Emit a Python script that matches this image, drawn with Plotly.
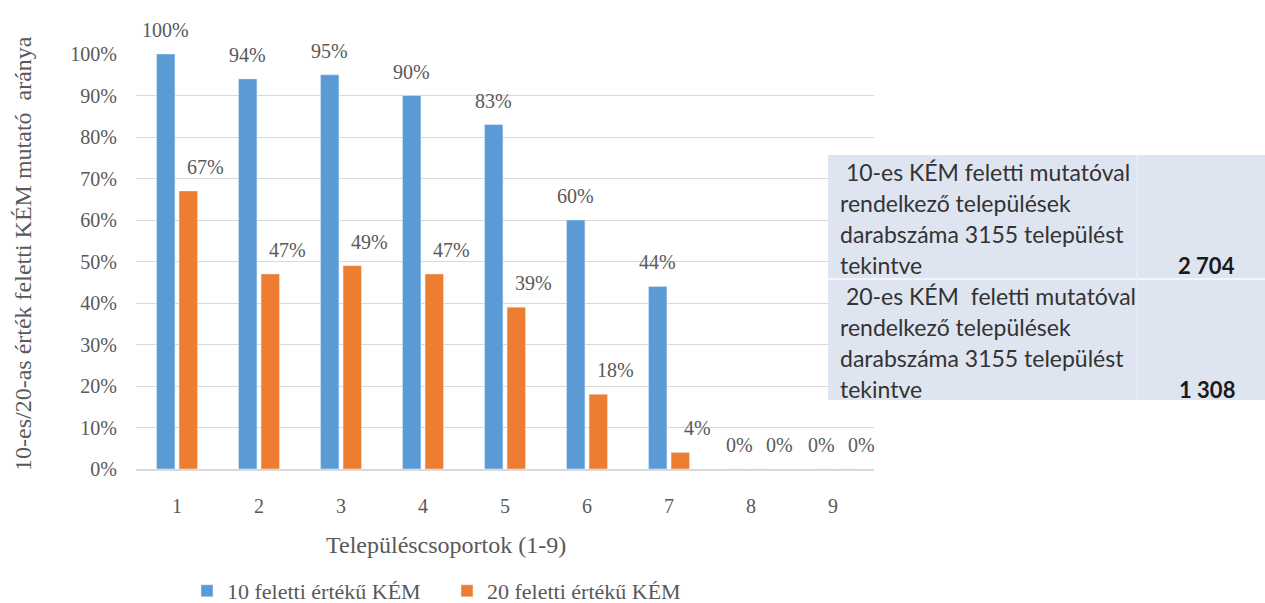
import plotly.graph_objects as go

# Településcsoportok és a KÉM mutatók arányai (%)
groups = [1, 2, 3, 4, 5, 6, 7, 8, 9]
kem10 = [100, 94, 95, 90, 83, 60, 44, 0, 0]
kem20 = [67, 47, 49, 47, 39, 18, 4, 0, 0]
series_names = ["10 feletti értékű KÉM", "20 feletti értékű KÉM"]
y_ticks = [0, 10, 20, 30, 40, 50, 60, 70, 80, 90, 100]

# Összesítő táblázat
table_rows = [
    [" 10-es KÉM feletti mutatóval", "rendelkező települések",
     "darabszáma 3155 települést", "tekintve"],
    [" 20-es KÉM  feletti mutatóval", "rendelkező települések",
     "darabszáma 3155 települést", "tekintve"],
]
table_totals = ["2 704", "1 308"]

BLUE = "#5B9BD5"
ORANGE = "#ED7D31"
GRAY = "#595959"
GRID = "#D9D9D9"
SERIF = "Liberation Serif"

W, H = 1265, 603
M_L, M_R, M_T, M_B = 136, 391, 54, 134
PW = W - M_L - M_R
PH = H - M_T - M_B


def px_x(px):
    return (px - M_L) / PW


def px_y(py):
    return (H - M_B - py) / PH


BAR_W = 0.225
OFF_BLUE = -0.25
OFF_ORANGE = 0.025

fig = go.Figure()
fig.add_trace(go.Bar(
    x=groups, y=kem10, name=series_names[0], marker_color=BLUE,
    width=BAR_W, offset=OFF_BLUE, cliponaxis=False,
))
fig.add_trace(go.Bar(
    x=groups, y=kem20, name=series_names[1], marker_color=ORANGE,
    width=BAR_W, offset=OFF_ORANGE, cliponaxis=False,
))

# Adatfeliratok a sávok fölött
annotations = []
for g, v in zip(groups, kem10):
    annotations.append(dict(
        x=g + OFF_BLUE + BAR_W / 2, y=v, xref="x", yref="y",
        text=f"{v}%", showarrow=False, yanchor="middle", yshift=24,
        font=dict(family=SERIF, size=20, color=GRAY),
    ))
for g, v in zip(groups, kem20):
    annotations.append(dict(
        x=g + OFF_ORANGE + BAR_W / 2, y=v, xref="x", yref="y",
        text=f"{v}%", showarrow=False, yanchor="middle", yshift=24, xshift=17,
        font=dict(family=SERIF, size=20, color=GRAY),
    ))

# Tengelycímek
annotations.append(dict(
    x=px_x(446), y=px_y(545), xref="paper", yref="paper",
    text="Településcsoportok (1-9)", showarrow=False,
    xanchor="center", yanchor="middle",
    font=dict(family=SERIF, size=24, color=GRAY),
))
annotations.append(dict(
    x=px_x(23), y=px_y(254), xref="paper", yref="paper",
    text="10-es/20-as érték feletti KÉM mutató&nbsp; aránya", showarrow=False,
    textangle=-90, xanchor="center", yanchor="middle",
    font=dict(family=SERIF, size=24, color=GRAY),
))

# Táblázat: háttér, elválasztók, szöveg
shapes = [
    dict(type="rect", xref="paper", yref="paper",
         x0=px_x(828), x1=px_x(1265), y0=px_y(400), y1=px_y(155),
         fillcolor="#DFE4F1", line=dict(width=0), layer="above"),
    dict(type="line", xref="paper", yref="paper",
         x0=px_x(828), x1=px_x(1265), y0=px_y(279), y1=px_y(279),
         line=dict(color="#F4F6FB", width=2), layer="above"),
    dict(type="line", xref="paper", yref="paper",
         x0=px_x(1137), x1=px_x(1137), y0=px_y(400), y1=px_y(155),
         line=dict(color="#E8ECF6", width=1.5), layer="above"),
]

row_top = [172, 296]
for r, lines in enumerate(table_rows):
    for i, line in enumerate(lines):
        annotations.append(dict(
            x=px_x(838), y=px_y(row_top[r] + i * 31), xref="paper", yref="paper",
            text=line.replace(" ", "&nbsp;", 1) if line.startswith(" ") else line,
            showarrow=False, xanchor="left", yanchor="middle",
            font=dict(family="Lato", size=23, color="#333333"),
        ))
    annotations.append(dict(
        x=px_x(1237), y=px_y(row_top[r] + 3 * 31), xref="paper", yref="paper",
        text=f"<b>{table_totals[r]}</b>", showarrow=False,
        xanchor="right", yanchor="middle",
        font=dict(family="Lato", size=22, color="#1a1a1a"),
    ))

fig.update_layout(
    width=W, height=H,
    margin=dict(l=M_L, r=M_R, t=M_T, b=M_B, pad=0, autoexpand=False),
    paper_bgcolor="white", plot_bgcolor="white",
    barmode="group",
    font=dict(family=SERIF, color=GRAY),
    showlegend=True,
    legend=dict(
        orientation="h", x=px_x(187), y=px_y(591),
        xanchor="left", yanchor="middle",
        font=dict(family=SERIF, size=22, color=GRAY),
        itemwidth=30, entrywidth=215, bgcolor="rgba(0,0,0,0)",
    ),
    xaxis=dict(
        range=[0.5, 9.5], tickmode="array", tickvals=groups,
        ticktext=[str(g) for g in groups],
        showgrid=False, zeroline=False, showline=True,
        linecolor=GRID, linewidth=1.5, ticks="",
        ticklabelstandoff=18, automargin=False,
        tickfont=dict(family=SERIF, size=20, color=GRAY),
    ),
    yaxis=dict(
        range=[0, 100], tickmode="array", tickvals=y_ticks,
        ticktext=[f"{t}%" for t in y_ticks],
        showgrid=True, gridcolor=GRID, gridwidth=1.2,
        zeroline=False, showline=False, ticks="",
        ticklabelstandoff=18, automargin=False,
        tickfont=dict(family=SERIF, size=20, color=GRAY),
    ),
    annotations=annotations,
    shapes=shapes,
)

fig.write_html("out.html")
